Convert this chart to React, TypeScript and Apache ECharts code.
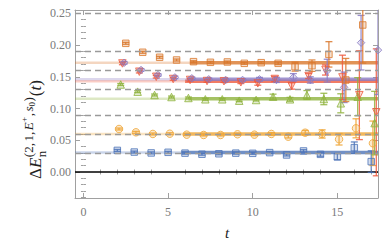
import React, { useEffect, useRef } from 'react';
import * as echarts from 'echarts';

const tBase = [2, 3, 4, 5, 6, 7, 8, 9, 10, 11, 12, 13, 14, 15, 16, 17];

const blueVals = [0.034, 0.0314, 0.030, 0.031, 0.0297, 0.028, 0.0287, 0.0297, 0.0294, 0.0305, 0.0268, 0.0331, 0.0278, 0.0241, 0.0383, 0.0163];
const blueErrs = [0.0015, 0.0015, 0.0015, 0.0015, 0.0015, 0.0015, 0.0015, 0.0015, 0.0015, 0.0015, 0.0015, 0.002, 0.003, 0.005, 0.009, 0.017];

const orangeVals = [0.0677, 0.0625, 0.0599, 0.0603, 0.0588, 0.0583, 0.0583, 0.0594, 0.0588, 0.0599, 0.0556, 0.0619, 0.0599, 0.0515, 0.0688, 0.0452];
const orangeErrs = [0.0015, 0.0015, 0.0015, 0.0015, 0.0015, 0.0015, 0.0015, 0.0015, 0.0015, 0.002, 0.002, 0.0035, 0.0065, 0.009, 0.015, 0.035];

const greenVals = [0.1378, 0.1265, 0.1213, 0.1181, 0.1166, 0.1145, 0.1145, 0.1123, 0.1134, 0.1186, 0.1145, 0.1213, 0.115, 0.1082, 0.1186, 0.077];
const greenErrs = [0.0015, 0.0015, 0.0015, 0.0015, 0.0015, 0.0015, 0.0015, 0.0015, 0.0015, 0.004, 0.003, 0.007, 0.009, 0.015, 0.03, 0.05];

const redVals = [0.171, 0.158, 0.150, 0.1465, 0.145, 0.1433, 0.143, 0.1413, 0.1397, 0.1465, 0.1355, 0.1512, 0.1607, 0.149, 0.121, 0.094];
const redErrs = [0.002, 0.002, 0.002, 0.002, 0.002, 0.002, 0.002, 0.002, 0.003, 0.004, 0.005, 0.004, 0.008, 0.035, 0.07, 0.1];

const purpleVals = [0.172, 0.1607, 0.1528, 0.149, 0.1476, 0.146, 0.145, 0.145, 0.146, 0.145, 0.149, 0.145, 0.1596, 0.1334, 0.2037, 0.192];
const purpleErrs = [0.002, 0.002, 0.002, 0.002, 0.002, 0.002, 0.002, 0.002, 0.003, 0.004, 0.006, 0.005, 0.018, 0.024, 0.043, 0.07];

const dkOrangeVals = [0.2027, 0.1886, 0.1807, 0.1764, 0.1738, 0.1728, 0.1733, 0.1712, 0.1722, 0.1712, 0.1659, 0.1675, 0.1853, 0.1449, 0.2316];
const dkOrangeErrs = [0.0015, 0.0015, 0.0015, 0.0015, 0.0015, 0.0015, 0.0015, 0.0015, 0.0015, 0.002, 0.007, 0.009, 0.02, 0.034, 0.06];

const seriesNames = ['blue', 'orange', 'green', 'red', 'purple', 'dkorange'];
const seriesColors = ['#4E74B8', '#EFA535', '#8FB33D', '#EE5B3F', '#8A7CC4', '#D9782D'];
const seriesOffsets = [0, 0.1, 0.2, 0.3, 0.4, 0.5];
const seriesSymbols = ['rect', 'circle', 'triangle', 'triangle', 'diamond', 'rect'];
const seriesRotate = [0, 0, 0, 180, 0, 0];

const fitVals = [0.0307, 0.0599, 0.1155, 0.143, 0.146, 0.1722];
const fitStarts = [5.8, 5.9, 6.2, 6.0, 6.1, 6.3];

const nonIntLevels = [0.031, 0.063, 0.094, 0.1255, 0.1564, 0.187, 0.2457];

const xMajorTicks = [0, 5, 10, 15];
const xMinorTicks = [1, 2, 3, 4, 6, 7, 8, 9, 11, 12, 13, 14, 16, 17];
const yMajorTicks = [0, 0.05, 0.1, 0.15, 0.2, 0.25];
const yMinorTicks = [-0.04, -0.03, -0.02, -0.01, 0.01, 0.02, 0.03, 0.04, 0.06, 0.07, 0.08, 0.09, 0.11, 0.12, 0.13, 0.14, 0.16, 0.17, 0.18, 0.19, 0.21, 0.22, 0.23, 0.24];

const X_MIN = -0.5;
const X_MAX = 17.4;
const Y_MIN = -0.041;
const Y_MAX = 0.2552;

const SERIF = '"Liberation Serif", "DejaVu Serif", serif';
const FRAME = '#a0a0a0';
const TICKTXT = '#7a7a7a';

function hexA(hex: string, a: number) {
  const r = parseInt(hex.slice(1, 3), 16);
  const g = parseInt(hex.slice(3, 5), 16);
  const b = parseInt(hex.slice(5, 7), 16);
  return `rgba(${r},${g},${b},${a})`;
}

function buildYLabel() {
  const canvas = document.createElement('canvas');
  const ctx = canvas.getContext('2d') as CanvasRenderingContext2D;
  const fontOf = (size: number, italic: boolean) => `${italic ? 'italic ' : ''}${size}px ${SERIF}`;
  const w = (text: string, size: number, italic: boolean) => {
    ctx.font = fontOf(size, italic);
    return ctx.measureText(text).width;
  };
  const M = 17, S = 13, T = 9;
  const pieces: any[] = [];
  let x = 0;
  const add = (text: string, size: number, italic: boolean, dy: number, gap = 0) => {
    pieces.push({ text, size, italic, x, dy });
    x += w(text, size, italic) + gap;
  };
  add('Δ', M, false, 0);
  add('E', M, true, 0, 0.5);
  const supStart = x;
  const sd = -7;
  add('(2,', S, false, sd, 1.5);
  add('1,', S, false, sd, 1.5);
  add('E', S, true, sd, 0.5);
  add('+', T, false, sd - 4, 0.5);
  add(',', S, false, sd, 1.5);
  add('s', S, true, sd);
  add('0', T, false, sd + 4, 0.5);
  add(')', S, false, sd, 1);
  pieces.push({ text: 'n', size: S, italic: false, x: supStart, dy: 6 });
  add('(', M, false, 0);
  add('t', M, true, 0);
  add(')', M, false, 0);
  return pieces.map((p) => ({
    type: 'text',
    x: p.x,
    y: p.dy,
    style: {
      text: p.text,
      font: fontOf(p.size, p.italic),
      fill: '#222',
      verticalAlign: 'middle',
      textVerticalAlign: 'middle',
      align: 'left',
      textAlign: 'left',
    },
  }));
}

export default function App() {
  const ref = useRef<HTMLDivElement>(null);

  useEffect(() => {
    if (!ref.current) return;
    const chart = echarts.init(ref.current, undefined, { renderer: 'svg' });

    const allVals = [blueVals, orangeVals, greenVals, redVals, purpleVals, dkOrangeVals];
    const allErrs = [blueErrs, orangeErrs, greenErrs, redErrs, purpleErrs, dkOrangeErrs];

    const series: any[] = [];

    // zero line + non-interacting levels
    series.push({
      type: 'line',
      data: [[X_MIN, 0], [X_MAX, 0]],
      symbol: 'none',
      lineStyle: { color: '#000', width: 1.3 },
      silent: true,
      z: 1,
      markLine: {
        silent: true,
        symbol: ['none', 'none'],
        label: { show: false },
        lineStyle: { type: [6, 4], color: '#9a9a9a', width: 1.3 },
        data: nonIntLevels.map((v) => ({ yAxis: v })),
      },
    });

    // fit bands
    seriesNames.forEach((name, k) => {
      const c = seriesColors[k];
      series.push({
        type: 'line',
        name: name + '-fitext',
        data: [[X_MIN, fitVals[k]], [fitStarts[k], fitVals[k]]],
        symbol: 'none',
        lineStyle: { color: hexA(c, 0.3), width: 2.5 },
        silent: true,
        z: 2,
      });
      series.push({
        type: 'line',
        name: name + '-fit',
        data: [[fitStarts[k], fitVals[k]], [X_MAX, fitVals[k]]],
        symbol: 'none',
        lineStyle: { color: hexA(c, 0.8), width: 3.5 },
        silent: true,
        z: 2,
      });
    });

    // error bars and markers
    seriesNames.forEach((name, k) => {
      const c = seriesColors[k];
      const vals = allVals[k];
      const errs = allErrs[k];
      const off = seriesOffsets[k];
      const errData = vals.map((v, i) => [tBase[i] + off, v - errs[i], v + errs[i]]);
      series.push({
        type: 'custom',
        name: name + '-err',
        data: errData,
        encode: { x: 0, y: [1, 2] },
        clip: true,
        z: 3,
        renderItem: (params: any, api: any) => {
          const x = api.value(0);
          const lo = api.value(1);
          const hi = api.value(2);
          const p1 = api.coord([x, lo]);
          const p2 = api.coord([x, hi]);
          const hw = 3.5;
          const st = { stroke: hexA(c, 0.85), lineWidth: 1.3 };
          return {
            type: 'group',
            children: [
              { type: 'line', shape: { x1: p1[0], y1: p1[1], x2: p2[0], y2: p2[1] }, style: st },
              { type: 'line', shape: { x1: p1[0] - hw, y1: p1[1], x2: p1[0] + hw, y2: p1[1] }, style: st },
              { type: 'line', shape: { x1: p2[0] - hw, y1: p2[1], x2: p2[0] + hw, y2: p2[1] }, style: st },
            ],
          };
        },
      });
      series.push({
        type: 'scatter',
        name,
        data: vals.map((v, i) => [tBase[i] + off, v]),
        symbol: seriesSymbols[k],
        symbolRotate: seriesRotate[k],
        symbolSize: seriesSymbols[k] === 'rect' ? 6.5 : 7.5,
        itemStyle: { color: hexA(c, 0.3), borderColor: c, borderWidth: 1 },
        z: 4,
      });
    });

    const xCommon = { type: 'value', min: X_MIN, max: X_MAX, splitLine: { show: false } };
    const yCommon = { type: 'value', min: Y_MIN, max: Y_MAX, splitLine: { show: false } };
    const lineOn = { show: true, onZero: false, lineStyle: { color: FRAME, width: 1 } };

    const option: any = {
      animation: false,
      grid: { left: 75, top: 10, width: 303, height: 188 },
      xAxis: [
        {
          ...xCommon, position: 'bottom', axisLine: lineOn,
          axisTick: { show: true, inside: true, length: 5, customValues: xMajorTicks, lineStyle: { color: FRAME } },
          axisLabel: { show: true, customValues: xMajorTicks, margin: 8, color: TICKTXT, fontFamily: SERIF, fontSize: 12 },
        },
        {
          ...xCommon, position: 'bottom', axisLine: { show: false },
          axisTick: { show: true, inside: true, length: 2.5, customValues: xMinorTicks, lineStyle: { color: FRAME } },
          axisLabel: { show: false },
        },
        {
          ...xCommon, position: 'top', axisLine: lineOn,
          axisTick: { show: true, inside: true, length: 5, customValues: xMajorTicks, lineStyle: { color: FRAME } },
          axisLabel: { show: false },
        },
        {
          ...xCommon, position: 'top', axisLine: { show: false },
          axisTick: { show: true, inside: true, length: 2.5, customValues: xMinorTicks, lineStyle: { color: FRAME } },
          axisLabel: { show: false },
        },
      ],
      yAxis: [
        {
          ...yCommon, position: 'left', axisLine: lineOn,
          axisTick: { show: true, inside: true, length: 5, customValues: yMajorTicks, lineStyle: { color: FRAME } },
          axisLabel: {
            show: true, customValues: yMajorTicks, margin: 4, color: TICKTXT, fontFamily: SERIF, fontSize: 12,
            formatter: (v: number) => v.toFixed(2),
          },
        },
        {
          ...yCommon, position: 'left', axisLine: { show: false },
          axisTick: { show: true, inside: true, length: 2.5, customValues: yMinorTicks, lineStyle: { color: FRAME } },
          axisLabel: { show: false },
        },
        {
          ...yCommon, position: 'right', axisLine: lineOn,
          axisTick: { show: true, inside: true, length: 5, customValues: yMajorTicks, lineStyle: { color: FRAME } },
          axisLabel: { show: false },
        },
        {
          ...yCommon, position: 'right', axisLine: { show: false },
          axisTick: { show: true, inside: true, length: 2.5, customValues: yMinorTicks, lineStyle: { color: FRAME } },
          axisLabel: { show: false },
        },
      ],
      graphic: [
        {
          type: 'group',
          x: 35,
          y: 179,
          rotation: Math.PI / 2,
          children: buildYLabel(),
        },
        {
          type: 'text',
          x: 227,
          y: 233,
          style: {
            text: 't',
            font: `italic 15px ${SERIF}`,
            fill: '#222',
            align: 'center',
            textAlign: 'center',
            verticalAlign: 'middle',
            textVerticalAlign: 'middle',
          },
        },
      ],
      series,
    };

    chart.setOption(option);
    return () => chart.dispose();
  }, []);

  return (
    <div
      ref={ref}
      style={{ position: 'fixed', left: 0, top: 0, width: 390, height: 248, background: '#fff' }}
    />
  );
}
